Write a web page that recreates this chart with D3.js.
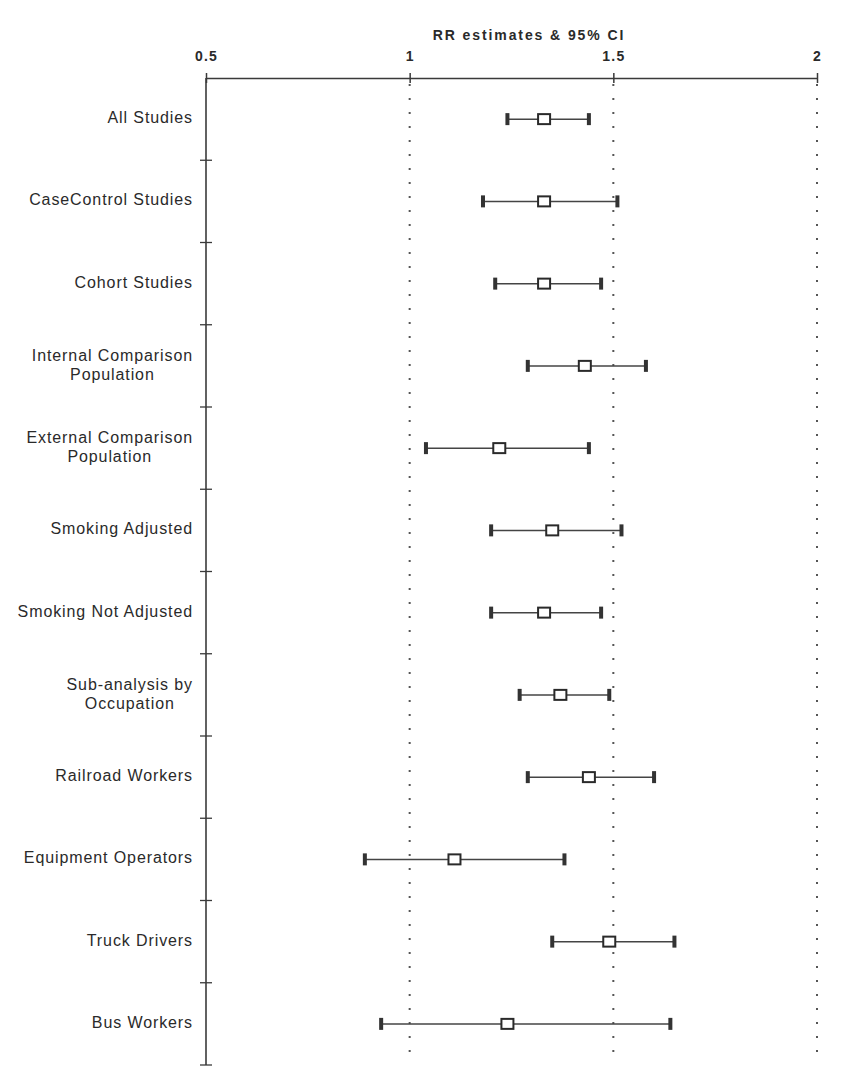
<!DOCTYPE html>
<html>
<head>
<meta charset="utf-8">
<script src="https://cdn.jsdelivr.net/npm/d3@7"></script>
<style>
  body { margin: 0; background: #fff; }
  svg text { font-family: "Liberation Sans", Arial, sans-serif; fill: #2a2a2a; }
</style>
</head>
<body>
<script>
// Data
const categories = [
  'All Studies',
  'CaseControl Studies',
  'Cohort Studies',
  'Internal Comparison\nPopulation',
  'External Comparison\nPopulation',
  'Smoking Adjusted',
  'Smoking Not Adjusted',
  'Sub-analysis by\nOccupation',
  'Railroad Workers',
  'Equipment Operators',
  'Truck Drivers',
  'Bus Workers'
];
const rrEstimates = [1.33, 1.33, 1.33, 1.43, 1.22, 1.35, 1.33, 1.37, 1.44, 1.11, 1.49, 1.24];
const ciLower     = [1.24, 1.18, 1.21, 1.29, 1.04, 1.20, 1.20, 1.27, 1.29, 0.89, 1.35, 0.93];
const ciUpper     = [1.44, 1.51, 1.47, 1.58, 1.44, 1.52, 1.47, 1.49, 1.60, 1.38, 1.65, 1.64];
const xTicks = [0.5, 1, 1.5, 2];
const gridValues = [1, 1.5, 2];

const w = 841;
const h = 1078;
const ink = '#3a3a3a';

const svg = d3.select('body')
  .append('svg')
  .attr('width', w)
  .attr('height', h);

const x = d3.scaleLinear()
  .domain([0.5, 2])
  .range([206, 817]);

const y = d3.scaleBand()
  .domain(categories)
  .range([78, 1065]);

const rows = categories.map((c, i) => ({
  label: c, rr: rrEstimates[i], lo: ciLower[i], hi: ciUpper[i]
}));

// dotted reference lines
svg.selectAll('.grid')
  .data(gridValues)
  .enter()
  .append('line')
  .attr('x1', d => x(d))
  .attr('x2', d => x(d))
  .attr('y1', 84)
  .attr('y2', 1062)
  .attr('stroke', '#555')
  .attr('stroke-width', 2)
  .attr('stroke-dasharray', '2,12');

// top axis
const xAxis = svg.append('g')
  .attr('transform', 'translate(0,78)')
  .call(d3.axisTop(x).tickValues(xTicks).tickFormat(d3.format('')).tickSizeInner(4).tickSizeOuter(0));
xAxis.select('.domain').attr('stroke', ink).attr('stroke-width', 1.6);
xAxis.selectAll('.tick line')
  .attr('stroke', ink)
  .attr('stroke-width', 1.5)
  .attr('y1', 5)
  .attr('y2', -5);
xAxis.selectAll('.tick text')
  .attr('y', -17)
  .attr('font-size', 14)
  .attr('font-weight', 'bold')
  .attr('letter-spacing', 1.2)
  .attr('fill', '#2a2a2a')
  .style('font-family', '"Liberation Sans", Arial, sans-serif');

// title
svg.append('text')
  .attr('x', 529)
  .attr('y', 40)
  .attr('text-anchor', 'middle')
  .attr('font-size', 14)
  .attr('font-weight', 'bold')
  .attr('letter-spacing', 1.9)
  .text('RR estimates & 95% CI');

// left axis
svg.append('line')
  .attr('x1', 206).attr('x2', 206)
  .attr('y1', 78).attr('y2', 1065)
  .attr('stroke', ink)
  .attr('stroke-width', 1.6);

svg.selectAll('.ytick')
  .data(categories)
  .enter()
  .append('line')
  .attr('x1', 200).attr('x2', 212)
  .attr('y1', d => y(d) + y.bandwidth())
  .attr('y2', d => y(d) + y.bandwidth())
  .attr('stroke', ink)
  .attr('stroke-width', 1.3);

// category labels
const labelRight = 193;
svg.selectAll('.label')
  .data(rows)
  .enter()
  .append('text')
  .attr('class', 'label')
  .attr('font-size', 16)
  .attr('letter-spacing', 0.9)
  .each(function(d) {
    const t = d3.select(this);
    const lines = d.label.split('\n');
    const cy = y(d.label) + y.bandwidth() / 2;
    if (lines.length === 1) {
      t.attr('x', labelRight).attr('y', cy + 4).attr('text-anchor', 'end').text(lines[0]);
    } else {
      t.attr('text-anchor', 'middle');
      const first = t.append('tspan').text(lines[0]).attr('y', cy - 5);
      const wFirst = first.node().getComputedTextLength();
      const cx = labelRight - wFirst / 2;
      first.attr('x', cx);
      t.append('tspan').text(lines[1]).attr('x', cx).attr('y', cy + 14);
    }
  });

// CI lines
const marks = svg.selectAll('.row')
  .data(rows)
  .enter()
  .append('g')
  .attr('transform', d => `translate(0,${y(d.label) + y.bandwidth() / 2})`);

marks.append('line')
  .attr('x1', d => x(d.lo))
  .attr('x2', d => x(d.hi))
  .attr('stroke', '#444')
  .attr('stroke-width', 1.5);

marks.append('rect')
  .attr('x', d => x(d.lo) - 2)
  .attr('y', -6)
  .attr('width', 4)
  .attr('height', 12)
  .attr('fill', '#333');

marks.append('rect')
  .attr('x', d => x(d.hi) - 2)
  .attr('y', -6)
  .attr('width', 4)
  .attr('height', 12)
  .attr('fill', '#333');

marks.append('rect')
  .attr('x', d => x(d.rr) - 6)
  .attr('y', -5)
  .attr('width', 12)
  .attr('height', 10)
  .attr('fill', '#fff')
  .attr('stroke', '#2a2a2a')
  .attr('stroke-width', 2);
</script>
</body>
</html>
